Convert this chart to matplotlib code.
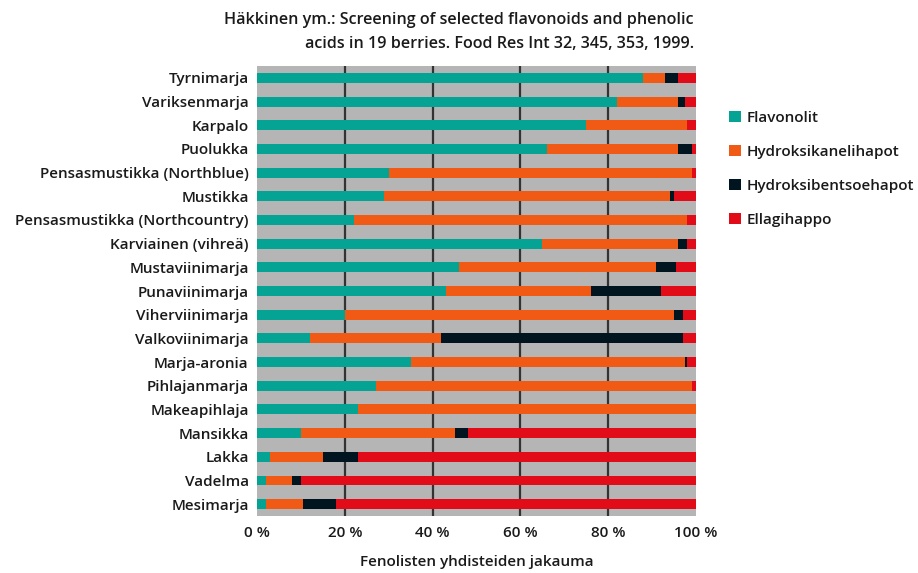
import matplotlib
matplotlib.use("Agg")
import matplotlib.pyplot as plt
import numpy as np

plt.rcParams['font.family'] = ['Open Sans', 'DejaVu Sans']

berries = ["Tyrnimarja", "Variksenmarja", "Karpalo", "Puolukka",
           "Pensasmustikka (Northblue)", "Mustikka", "Pensasmustikka (Northcountry)",
           "Karviainen (vihreä)", "Mustaviinimarja", "Punaviinimarja", "Viherviinimarja",
           "Valkoviinimarja", "Marja-aronia", "Pihlajanmarja", "Makeapihlaja",
           "Mansikka", "Lakka", "Vadelma", "Mesimarja"]

flavonolit = [88, 82, 75, 66, 30, 29, 22, 65, 46, 43, 20, 12, 35, 27, 23, 10, 3, 2, 2]
hydroksikaneli = [5, 14, 23, 30, 69, 65, 76, 31, 45, 33, 75, 30, 62.5, 72, 77, 35, 12, 6, 8.5]
hydroksibentso = [3, 1.5, 0, 3, 0, 1, 0, 2, 4.5, 16, 2, 55, 0.5, 0, 0, 3, 8, 2, 7.5]
ellagihappo = [4, 2.5, 2, 1, 1, 5, 2, 2, 4.5, 8, 3, 3, 2, 1, 0, 52, 77, 90, 82]

series = [("Flavonolit", flavonolit, "#05a393"),
          ("Hydroksikanelihapot", hydroksikaneli, "#f15a14"),
          ("Hydroksibentsoehapot", hydroksibentso, "#001520"),
          ("Ellagihappo", ellagihappo, "#e20b18")]

xticks = [0, 20, 40, 60, 80, 100]
xticklabels = ["0 %", "20 %", "40 %", "60 %", "80 %", "100 %"]

title = ("Häkkinen ym.: Screening of selected flavonoids and phenolic\n"
         "acids in 19 berries. Food Res Int 32, 345, 353, 1999.")
xlabel = "Fenolisten yhdisteiden jakauma"

txt = "#1a1a1a"
fig = plt.figure(figsize=(9.18, 5.73), dpi=100)
ax = fig.add_axes([257/918, 1-516/573, (696-257)/918, (516-66)/573])
ax.set_facecolor("#b5b5b5")

y = np.arange(len(berries))
left = np.zeros(len(berries))
handles = []
for name, vals, col in series:
    v = np.array(vals, dtype=float)
    b = ax.barh(y, v, left=left, height=0.42, color=col, label=name, zorder=3)
    handles.append(b)
    left += v

ax.set_ylim(len(berries) - 0.5, -0.5)
ax.set_xlim(0, 100)
ax.set_yticks(y)
ax.set_yticklabels(berries, fontsize=11, color=txt, fontweight='semibold')
ax.set_xticks(xticks)
ax.set_xticklabels(xticklabels, fontsize=11, color=txt, fontweight='semibold')
ax.tick_params(length=0, pad=6)
ax.tick_params(axis='x', pad=7)
for s in ax.spines.values():
    s.set_visible(False)
for xv in xticks[1:-1]:
    ax.axvline(xv, color="#333333", lw=1.6, zorder=2)
ax.set_xlabel(xlabel, fontsize=11, color=txt, fontweight='semibold', labelpad=11)

fig.text(694/918, 1-12/573, title, ha='right', va='top', fontsize=11.6,
         color=txt, fontweight='semibold', linespacing=1.65)

fig.legend(handles=handles, loc='upper left', bbox_to_anchor=(723/918, 1-105/573),
           frameon=False, handlelength=0.75, handleheight=0.75,
           handletextpad=0.4, labelspacing=1.3, borderaxespad=0,
           prop={'weight': 'semibold', 'size': 11})
for t in fig.legends[0].get_texts():
    t.set_color(txt)

fig.savefig("out.png", dpi=100)
